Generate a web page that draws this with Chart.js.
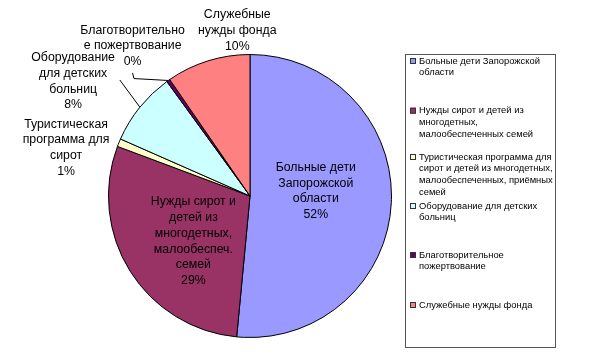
<!DOCTYPE html>
<html>
<head>
<meta charset="utf-8">
<script src="https://cdn.jsdelivr.net/npm/chart.js@4"></script>
<style>
html,body{margin:0;padding:0;background:#fff;}
canvas{display:block;}
</style>
</head>
<body>
<canvas id="c" width="600" height="356"></canvas>
<script>
// ---- data ----
const categories = [
  "Больные дети Запорожской области",
  "Нужды сирот и детей из многодетных, малообеспеченных семей",
  "Туристическая программа для сирот и детей из многодетных, малообеспеченных, приёмных семей",
  "Оборудование для детских больниц",
  "Благотворительное пожертвование",
  "Служебные нужды фонда"
];
const values = [51.5, 29.2, 0.9, 8.4, 0.4, 9.6];
const sliceLabelLines = [
  ["Больные дети", "Запорожской", "области"],
  ["Нужды сирот и", "детей из", "многодетных,", "малообеспеч.", "семей"],
  ["Туристическая", "программа для", "сирот"],
  ["Оборудование", "для детских", "больниц"],
  ["Благотворительно", "е пожертвование"],
  ["Служебные", "нужды фонда"]
];
const legendLines = [
  ["Больные дети Запорожской", "области"],
  ["Нужды сирот и детей из", "многодетных,", "малообеспеченных семей"],
  ["Туристическая программа для", "сирот и детей из многодетных,", "малообеспеченных, приёмных", "семей"],
  ["Оборудование для детских", "больниц"],
  ["Благотворительное", "пожертвование"],
  ["Служебные нужды фонда"]
];

// ---- styles / layout ----
const colors = ["#9999FF", "#993366", "#FFFFCC", "#CCFFFF", "#660066", "#FF8080"];
// label block centres relative to pie centre, in units of radius
const labelOffsets = [
  [0.465, -0.035], [-0.40, 0.32], [-1.30, -0.34],
  [-1.25, -0.81], [-0.83, -1.06], [-0.09, -1.17]
];
// leader line start points relative to pie centre (radius units); null = none
const leaderStarts = [null, null, null, [[-0.92, -0.82]], [[-0.83, -0.87], [-0.82, -0.83]], null];
const legendItemY = [61, 110.7, 157, 206, 255, 305];

const FONT = '"Liberation Sans", Arial, sans-serif';

const labelPlugin = {
  id: 'sliceLabels',
  afterDatasetsDraw(chart) {
    const ctx = chart.ctx;
    const meta = chart.getDatasetMeta(0);
    const total = values.reduce((a, b) => a + b, 0);
    ctx.save();
    meta.data.forEach((arc, i) => {
      const p = arc.getProps(['x', 'y', 'startAngle', 'endAngle', 'outerRadius'], true);
      const r = p.outerRadius;
      if (leaderStarts[i]) {
        const mid = (p.startAngle + p.endAngle) / 2;
        ctx.beginPath();
        ctx.strokeStyle = '#000';
        ctx.lineWidth = 1;
        const pts = leaderStarts[i].map(o => [p.x + o[0] * r, p.y + o[1] * r]);
        pts.push([p.x + Math.cos(mid) * r, p.y + Math.sin(mid) * r]);
        ctx.moveTo(pts[0][0], pts[0][1]);
        for (let k = 1; k < pts.length; k++) ctx.lineTo(pts[k][0], pts[k][1]);
        ctx.stroke();
      }
      const pct = Math.round(values[i] / total * 100 + 1e-9) + '%';
      const lines = sliceLabelLines[i].concat([pct]);
      const lh = 15.8;
      const cx = p.x + labelOffsets[i][0] * r;
      const cy = p.y + labelOffsets[i][1] * r;
      ctx.font = '12.3px ' + FONT;
      ctx.fillStyle = '#000';
      ctx.textAlign = 'center';
      ctx.textBaseline = 'middle';
      const y0 = cy - (lines.length - 1) * lh / 2;
      lines.forEach((t, k) => ctx.fillText(t, cx, y0 + k * lh));
    });
    // legend
    ctx.strokeStyle = '#555';
    ctx.lineWidth = 1;
    ctx.strokeRect(405.5, 54.5, 150, 293);
    ctx.font = '9.4px ' + FONT;
    ctx.textAlign = 'left';
    ctx.textBaseline = 'middle';
    legendLines.forEach((lines, i) => {
      const y = legendItemY[i];
      ctx.fillStyle = colors[i];
      ctx.fillRect(410, y - 3, 6, 6);
      ctx.strokeStyle = '#333';
      ctx.strokeRect(410.5, y - 2.5, 5, 5);
      ctx.fillStyle = '#000';
      lines.forEach((t, k) => ctx.fillText(t, 419, y + k * 11.8));
    });
    ctx.restore();
  }
};

new Chart(document.getElementById('c'), {
  type: 'pie',
  data: {
    labels: categories,
    datasets: [{
      data: values,
      backgroundColor: colors,
      borderColor: '#000',
      borderWidth: 1
    }]
  },
  options: {
    responsive: false,
    animation: false,
    layout: { padding: { left: 108, right: 208, top: 54, bottom: 18 } },
    plugins: {
      legend: { display: false },
      tooltip: { enabled: false }
    }
  },
  plugins: [labelPlugin]
});
</script>
</body>
</html>
